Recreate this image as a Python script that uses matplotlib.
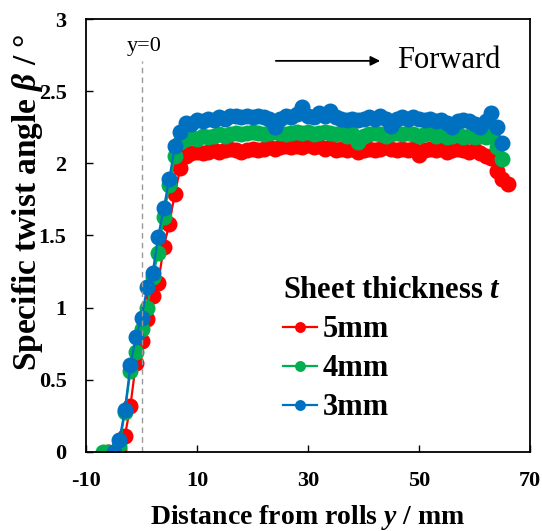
import matplotlib
matplotlib.use("Agg")
import matplotlib.pyplot as plt
import numpy as np

plt.rcParams["font.family"] = ["Liberation Serif", "DejaVu Serif"]
plt.rcParams["font.weight"] = "bold"
plt.rcParams["axes.labelweight"] = "bold"
plt.rcParams["axes.unicode_minus"] = False
plt.rcParams["mathtext.fontset"] = "custom"
plt.rcParams["mathtext.it"] = "Liberation Serif:bold:italic"
plt.rcParams["mathtext.rm"] = "Liberation Serif:bold"
plt.rcParams["mathtext.bf"] = "Liberation Serif:bold"

# specific twist angle (deg) sampled every 1 mm along the sheet
x_5mm = np.arange(-6, 67)
beta_5mm = [
    0.00, 0.00, 0.02, 0.11, 0.32, 0.62, 0.77, 0.92, 1.08, 1.17, 1.42, 1.58, 1.79, 1.97,
    2.05, 2.07, 2.08, 2.07, 2.08, 2.09, 2.08, 2.09, 2.10, 2.09, 2.08, 2.09, 2.10, 2.09,
    2.10, 2.11, 2.10, 2.11, 2.12, 2.11, 2.12, 2.11, 2.13, 2.11, 2.12, 2.10, 2.11, 2.09,
    2.10, 2.09, 2.10, 2.08, 2.09, 2.10, 2.09, 2.10, 2.11, 2.10, 2.09, 2.10, 2.09, 2.10,
    2.06, 2.09, 2.10, 2.09, 2.10, 2.08, 2.09, 2.10, 2.09, 2.08, 2.09, 2.07, 2.05, 2.04,
    1.95, 1.89, 1.86,
]

x_4mm = np.arange(-7, 66)
beta_4mm = [
    0.00, 0.00, 0.00, 0.04, 0.28, 0.56, 0.69, 0.85, 1.00, 1.21, 1.38, 1.63, 1.85, 2.05,
    2.15, 2.17, 2.18, 2.17, 2.19, 2.18, 2.19, 2.20, 2.19, 2.20, 2.21, 2.20, 2.21, 2.22,
    2.21, 2.20, 2.21, 2.22, 2.21, 2.20, 2.21, 2.22, 2.21, 2.22, 2.20, 2.21, 2.22, 2.21,
    2.20, 2.21, 2.19, 2.20, 2.15, 2.19, 2.20, 2.21, 2.20, 2.19, 2.20, 2.21, 2.20, 2.21,
    2.20, 2.19, 2.20, 2.21, 2.19, 2.20, 2.18, 2.19, 2.20, 2.18, 2.19, 2.18, 2.19, 2.18,
    2.20, 2.11, 2.03,
]

x_3mm = np.arange(-5, 66)
beta_3mm = [
    0.00, 0.08, 0.29, 0.60, 0.80, 0.93, 1.14, 1.24, 1.49, 1.69, 1.89, 2.12, 2.22, 2.28,
    2.27, 2.30, 2.29, 2.31, 2.30, 2.32, 2.31, 2.33, 2.33, 2.32, 2.33, 2.32, 2.33, 2.32,
    2.31, 2.25, 2.31, 2.33, 2.32, 2.34, 2.39, 2.33, 2.32, 2.35, 2.33, 2.36, 2.32, 2.31,
    2.30, 2.31, 2.30, 2.31, 2.32, 2.31, 2.33, 2.31, 2.26, 2.31, 2.32, 2.31, 2.32, 2.31,
    2.30, 2.31, 2.29, 2.30, 2.28, 2.25, 2.29, 2.30, 2.29, 2.27, 2.25, 2.29, 2.35, 2.25,
    2.14,
]

series = [
    ("5mm", x_5mm, beta_5mm, "#FF0000"),
    ("4mm", x_4mm, beta_4mm, "#00B050"),
    ("3mm", x_3mm, beta_3mm, "#0070C0"),
]

fig = plt.figure(figsize=(5.42, 5.31), dpi=100)
ax = fig.add_axes([0.1587, 0.1488, 0.8192, 0.8154])

for label, x, y, c in series:
    ax.plot(x, y, color=c, lw=1.6, marker="o", markersize=10.5, label=label)

# roll position marker
ax.axvline(0, ymin=0, ymax=(2.71 / 3), color="#999999", lw=1, ls=(0, (4, 3)))
ax.text(0.4, 2.81, "y=0", ha="center", va="center", fontsize=16, fontweight="normal")

ax.annotate("", xy=(43.5, 2.71), xytext=(23.7, 2.71),
            arrowprops=dict(arrowstyle="-|>", color="black", lw=1.3, mutation_scale=14))
ax.text(46.0, 2.71, "Forward", ha="left", va="center", fontsize=22, fontweight="normal")

ax.set_xlim(-10, 70)
ax.set_ylim(0, 3)
ax.set_xticks([-10, 10, 30, 50, 70])
ax.set_yticks([0, 0.5, 1, 1.5, 2, 2.5, 3])
ax.set_yticklabels(["0", "0.5", "1", "1.5", "2", "2.5", "3"])
ax.tick_params(direction="in", length=5, width=1, labelsize=16)
ax.tick_params(axis="x", pad=14)
ax.tick_params(axis="y", pad=14)
for s in ax.spines.values():
    s.set_linewidth(1.3)

ax.set_xlabel("Distance from rolls $\\mathit{y}$ / mm", fontsize=20, labelpad=8)
ax.set_ylabel("Specific twist angle $\\mathit{\\beta}$ / °", fontsize=24)
ax.yaxis.set_label_coords(-0.092, 0.577)

leg = ax.legend(loc="upper left", bbox_to_anchor=(0.444, 0.406), frameon=False,
                title="Sheet thickness $\\mathit{t}$", fontsize=22,
                title_fontproperties={"size": 22, "weight": "bold"},
                markerscale=0.65, handlelength=1.1, handletextpad=0.2,
                labelspacing=0.33, borderpad=0, borderaxespad=0)
leg._legend_box.align = "left"

fig.savefig("out.png", dpi=100)
